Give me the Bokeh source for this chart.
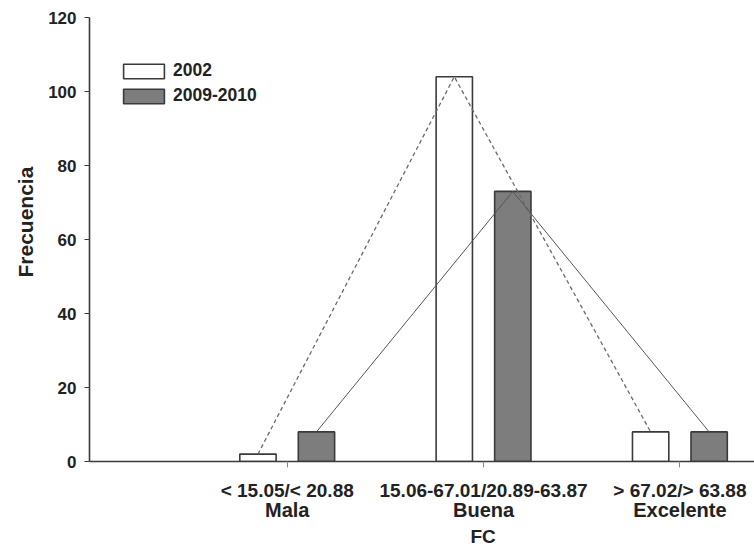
from bokeh.plotting import figure
from bokeh.models import (ColumnDataSource, Range1d, LinearAxis, FixedTicker,
                          Legend, LegendItem, Title)
from bokeh.transform import dodge
from bokeh.embed import file_html
from bokeh.resources import INLINE

# ---- data ----
categories = ["Mala", "Buena", "Excelente"]
ranges_fc = ["< 15.05/< 20.88", "15.06-67.01/20.89-63.87", "> 67.02/> 63.88"]
positions = [1, 2, 3]
freq_2002 = [2, 104, 8]
freq_2009_2010 = [8, 73, 8]
y_ticks = [0, 20, 40, 60, 80, 100, 120]

src = ColumnDataSource(dict(pos=positions, v2002=freq_2002, v0910=freq_2009_2010))

FONT = "Liberation Sans"
DARK = "#3a3a3a"
TXT = "#222222"

p = figure(width=754, height=546, output_backend="svg", toolbar_location=None,
           x_range=Range1d(-0.007, 3.38), y_range=Range1d(0, 120),
           min_border_left=89, min_border_right=0, min_border_top=17,
           min_border_bottom=82, x_axis_type=None)
p.outline_line_color = None
p.xgrid.visible = False
p.ygrid.visible = False
p.background_fill_color = "white"
p.border_fill_color = "white"

off = 0.149
bw = 0.185
r1 = p.vbar(x=dodge("pos", -off), top="v2002", width=bw, source=src,
            fill_color="white", line_color=DARK, line_width=1.6)
r2 = p.vbar(x=dodge("pos", off), top="v0910", width=bw, source=src,
            fill_color="#7d7d7d", line_color=DARK, line_width=1.6)
p.line(x=dodge("pos", -off), y="v2002", source=src, line_color="#6a6a6a",
       line_width=1.3, line_dash="4 3")
p.line(x=dodge("pos", off), y="v0910", source=src, line_color="#555555",
       line_width=1.0)

# y axis
ya = p.yaxis[0]
ya.ticker = FixedTicker(ticks=y_ticks)
ya.minor_tick_line_color = None
ya.major_tick_in = 0
ya.major_tick_out = 5
ya.axis_line_color = DARK
ya.axis_line_width = 1.6
ya.major_tick_line_color = DARK
ya.major_label_text_font = FONT
ya.major_label_text_font_style = "bold"
ya.major_label_text_font_size = "17px"
ya.major_label_text_color = TXT
ya.major_label_standoff = 8

# y axis title, placed a little above the frame centre as in the original
y_title = Title(text="Frecuencia", align="left", offset=184, standoff=17,
                text_font=FONT, text_font_style="bold", text_font_size="21px",
                text_color=TXT)
p.add_layout(y_title, "left")

# x axis: range labels
xa1 = LinearAxis(ticker=FixedTicker(ticks=positions),
                 major_label_overrides={pp: t for pp, t in zip(positions, ranges_fc)})
xa1.minor_tick_line_color = None
xa1.major_tick_in = 0
xa1.major_tick_out = 6
xa1.major_tick_line_color = "#888888"
xa1.axis_line_color = DARK
xa1.axis_line_width = 1.6
xa1.major_label_text_font = FONT
xa1.major_label_text_font_style = "bold"
xa1.major_label_text_font_size = "19px"
xa1.major_label_text_color = TXT
xa1.major_label_standoff = 12
p.add_layout(xa1, "below")

# x axis: category names
xa2 = LinearAxis(ticker=FixedTicker(ticks=positions),
                 major_label_overrides={pp: t for pp, t in zip(positions, categories)})
xa2.minor_tick_line_color = None
xa2.major_tick_in = 0
xa2.major_tick_out = 0
xa2.major_tick_line_color = None
xa2.axis_line_color = None
xa2.major_label_text_font = FONT
xa2.major_label_text_font_style = "bold"
xa2.major_label_text_font_size = "20px"
xa2.major_label_text_color = TXT
xa2.major_label_standoff = -5
p.add_layout(xa2, "below")

# axis title "FC", centred under the middle category
fc_title = Title(text="FC", align="left", offset=381, standoff=0,
                 text_font=FONT, text_font_style="bold", text_font_size="19px",
                 text_color=TXT)
p.add_layout(fc_title, "below")

legend = Legend(items=[LegendItem(label="2002", renderers=[r1]),
                       LegendItem(label="2009-2010", renderers=[r2])],
                location=(29, 355))
legend.glyph_width = 51
legend.glyph_height = 18
legend.label_height = 14
legend.label_standoff = 4
legend.spacing = 4
legend.padding = 0
legend.margin = 0
legend.border_line_color = None
legend.background_fill_alpha = 0
legend.label_text_font = FONT
legend.label_text_font_style = "bold"
legend.label_text_font_size = "17.5px"
legend.label_text_color = TXT
p.add_layout(legend)

open("out.html", "w").write(file_html(p, INLINE))
